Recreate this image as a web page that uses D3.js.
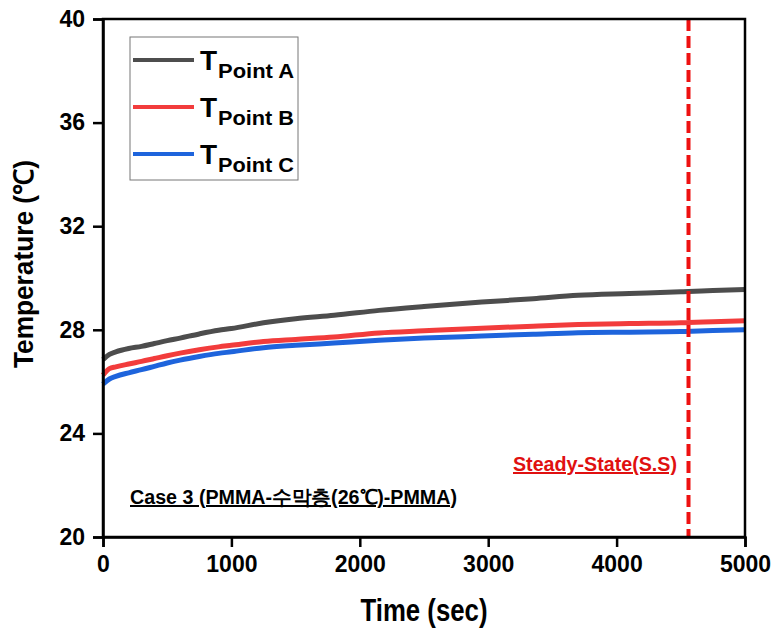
<!DOCTYPE html>
<html><head><meta charset="utf-8">
<script src="https://cdn.jsdelivr.net/npm/d3@7"></script>
<style>body{margin:0;background:#fff}svg{display:block}</style>
</head><body>
<script>
const times   = [0,50,100,200,300,400,500,600,750,900,1000,1250,1500,1800,2150,2500,2950,3350,3700,4100,4500,4560,4750,5000];
const seriesA = [26.85,27.05,27.15,27.28,27.36,27.47,27.58,27.68,27.84,27.98,28.05,28.27,28.43,28.56,28.75,28.9,29.07,29.2,29.33,29.4,29.47,29.48,29.52,29.56];
const seriesB = [26.25,26.5,26.57,26.68,26.78,26.89,27.0,27.1,27.23,27.34,27.4,27.55,27.63,27.72,27.88,27.96,28.06,28.14,28.2,28.24,28.27,28.28,28.31,28.35];
const seriesC = [25.9,26.1,26.2,26.34,26.46,26.59,26.72,26.83,26.97,27.09,27.15,27.31,27.4,27.49,27.6,27.68,27.76,27.83,27.89,27.91,27.93,27.94,27.97,28.0];
const seriesNames = ["Point A","Point B","Point C"];
const seriesColors = ["#4d4d4d","#f23c3c","#1e64dc"];
const xTicks = [0,1000,2000,3000,4000,5000];
const yTicks = [20,24,28,32,36,40];
const steadyTime = 4560;

const W=774,H=628;
const m={l:103,r:745,t:19,b:537};
const svg=d3.select("body").append("svg").attr("width",W).attr("height",H);
const x=d3.scaleLinear().domain([0,5000]).range([m.l,m.r]);
const y=d3.scaleLinear().domain([20,40]).range([m.b,m.t]);
const font="Arial, 'Liberation Sans', sans-serif";

const data=[seriesA,seriesB,seriesC];
const line=d3.line().x((d,i)=>x(times[i])).y(d=>y(d)).curve(d3.curveMonotoneX);
data.forEach((s,k)=>{
  svg.append("path").datum(s).attr("d",line).attr("fill","none")
    .attr("stroke",seriesColors[k]).attr("stroke-width",5);
});

// steady-state line
svg.append("line").attr("x1",x(steadyTime)).attr("x2",x(steadyTime))
  .attr("y1",m.t).attr("y2",m.b).attr("stroke","#ee1111").attr("stroke-width",4)
  .attr("stroke-dasharray","12,5");

// frame
svg.append("rect").attr("x",m.l).attr("y",m.t).attr("width",m.r-m.l).attr("height",m.b-m.t)
  .attr("fill","none").attr("stroke","#000").attr("stroke-width",2.5);

// axes
const xa=svg.append("g").attr("transform",`translate(0,${m.b})`)
  .call(d3.axisBottom(x).tickValues(xTicks).tickSize(10).tickPadding(9).tickFormat(d3.format("d")));
const ya=svg.append("g").attr("transform",`translate(${m.l},0)`)
  .call(d3.axisLeft(y).tickValues(yTicks).tickSize(10).tickPadding(8).tickFormat(d3.format("d")));
[xa,ya].forEach(a=>{
  a.select(".domain").attr("stroke-width",2.5);
  a.selectAll(".tick line").attr("stroke-width",2.5);
  a.selectAll("text").attr("font-family",font).attr("font-weight","bold").attr("font-size",23).attr("fill","#000");
});

// axis titles
svg.append("text").attr("x",424).attr("y",621).attr("text-anchor","middle")
  .attr("font-family",font).attr("font-weight","bold").attr("font-size",31)
  .attr("textLength",127).attr("lengthAdjust","spacingAndGlyphs").text("Time (sec)");
svg.append("text").attr("transform",`translate(33,264) rotate(-90)`).attr("text-anchor","middle")
  .attr("font-family",font).attr("font-weight","bold").attr("font-size",27)
  .attr("textLength",208).attr("lengthAdjust","spacingAndGlyphs").text("Temperature (℃)");

// legend
svg.append("rect").attr("x",130).attr("y",37).attr("width",168).attr("height",143)
  .attr("fill","#fff").attr("stroke","#777").attr("stroke-width",1);
seriesNames.forEach((n,k)=>{
  const ly=60+k*47;
  svg.append("line").attr("x1",133).attr("x2",194).attr("y1",ly).attr("y2",ly)
    .attr("stroke",seriesColors[k]).attr("stroke-width",4);
  svg.append("text").attr("x",200).attr("y",ly+10).attr("font-family",font).attr("font-weight","bold")
    .attr("font-size",28).text("T");
  svg.append("text").attr("x",218).attr("y",ly+18).attr("font-family",font).attr("font-weight","bold")
    .attr("font-size",20).attr("textLength",76).attr("lengthAdjust","spacingAndGlyphs").text(n);
});

// annotations
svg.append("text").attr("x",130).attr("y",504).attr("font-family",font).attr("font-weight","bold")
  .attr("font-size",20).attr("text-decoration","underline").attr("fill","#000")
  .attr("textLength",327).attr("lengthAdjust","spacingAndGlyphs")
  .text("Case 3 (PMMA-수막층(26℃)-PMMA)");
svg.append("text").attr("x",513).attr("y",471).attr("font-family",font).attr("font-weight","bold")
  .attr("font-size",20).attr("text-decoration","underline").attr("fill","#e01010")
  .attr("textLength",164).attr("lengthAdjust","spacingAndGlyphs")
  .text("Steady-State(S.S)");
</script>
</body></html>
